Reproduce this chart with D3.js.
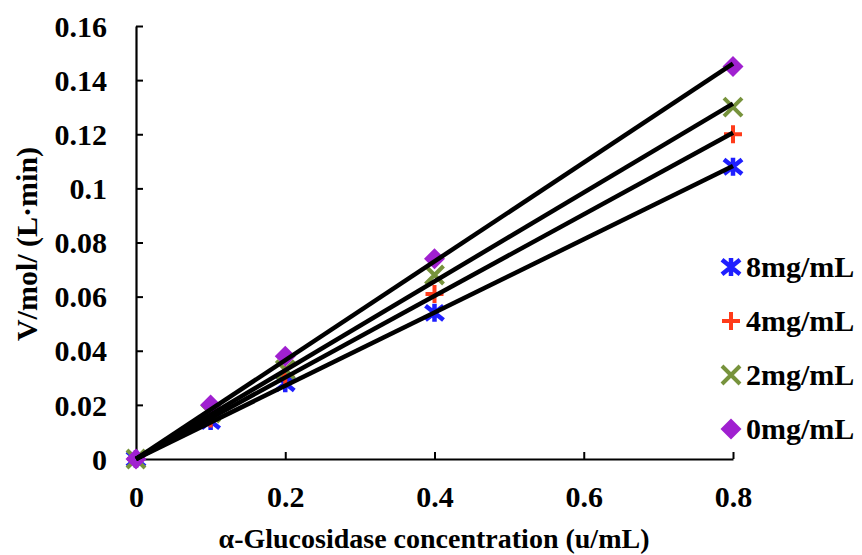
<!DOCTYPE html>
<html><head><meta charset="utf-8">
<script src="https://cdn.jsdelivr.net/npm/d3@7"></script>
<style>body{margin:0;background:#fff}svg{display:block}text{font-family:"Liberation Serif","Times New Roman",serif;font-weight:bold}</style>
</head><body><svg id="c" width="862" height="555"></svg>
<script>
const xValues = [0, 0.1, 0.2, 0.4, 0.8];
const s8 = [0, 0.014, 0.028, 0.054, 0.108];
const s4 = [0, 0.015, 0.031, 0.061, 0.120];
const s2 = [0, 0.017, 0.033, 0.068, 0.130];
const s0 = [0, 0.020, 0.038, 0.074, 0.145];
const seriesNames = ["8mg/mL", "4mg/mL", "2mg/mL", "0mg/mL"];
const seriesColors = ["#1f1fff", "#ff3b1a", "#77933c", "#a020d0"];
const seriesShapes = ["asterisk", "plus", "cross", "diamond"];
const xTicks = [0, 0.2, 0.4, 0.6, 0.8];
const yTicks = [0, 0.02, 0.04, 0.06, 0.08, 0.1, 0.12, 0.14, 0.16];
const allSeries = [s8, s4, s2, s0];

const svg = d3.select("#c");
const x = d3.scaleLinear().domain([0, 0.8]).range([136, 733]);
const y = d3.scaleLinear().domain([0, 0.16]).range([459, 26]);

// axes
const xa = svg.append("g").attr("transform", "translate(0,459)")
  .call(d3.axisBottom(x).tickValues(xTicks).tickSizeInner(-7).tickSizeOuter(0).tickPadding(0).tickFormat(d => d3.format("~g")(d)));
const ya = svg.append("g").attr("transform", "translate(136,0)")
  .call(d3.axisLeft(y).tickValues(yTicks).tickSizeInner(-7).tickSizeOuter(0).tickPadding(29).tickFormat(d => d3.format("~g")(d)));
[xa, ya].forEach(g => {
  g.attr("font-size", null).attr("font-family", null);
  g.selectAll("path.domain").attr("stroke", "#000").attr("stroke-width", 2.2);
  g.selectAll(".tick line").attr("stroke", "#000").attr("stroke-width", 2);
  g.selectAll(".tick text").attr("fill", "#000").style("font-size", "30px");
});
xa.selectAll(".tick text").attr("y", 48).attr("dy", 0);
ya.selectAll(".tick text").attr("dy", "0.34em");

function symbolPath(shape, cx, cy) {
  const r = 9;
  if (shape === "diamond") { const d = 10.5; return `M${cx},${cy-d}L${cx+d},${cy}L${cx},${cy+d}L${cx-d},${cy}Z`; }
  if (shape === "plus") return `M${cx-r},${cy}L${cx+r},${cy}M${cx},${cy-r}L${cx},${cy+r}`;
  if (shape === "cross") return `M${cx-r},${cy-r}L${cx+r},${cy+r}M${cx+r},${cy-r}L${cx-r},${cy+r}`;
  return `M${cx-r},${cy-r*0.8}L${cx+r},${cy+r*0.8}M${cx+r},${cy-r*0.8}L${cx-r},${cy+r*0.8}M${cx},${cy-r}L${cx},${cy+r}`;
}
function drawSymbol(g, shape, color, cx, cy) {
  const p = g.append("path").attr("d", symbolPath(shape, cx, cy));
  if (shape === "diamond") p.attr("fill", color).attr("stroke", "none");
  else p.attr("fill", "none").attr("stroke", color).attr("stroke-width", shape === "asterisk" ? 4.5 : 4);
}

// markers
allSeries.forEach((s, i) => {
  const g = svg.append("g");
  s.forEach((v, j) => drawSymbol(g, seriesShapes[i], seriesColors[i], x(xValues[j]), y(v)));
});

// trend lines (least squares through origin)
allSeries.forEach((s) => {
  const sxy = d3.sum(s, (v, j) => v * xValues[j]);
  const sxx = d3.sum(xValues, v => v * v);
  const k = sxy / sxx;
  svg.append("line").attr("x1", x(0)).attr("y1", y(0)).attr("x2", x(0.8)).attr("y2", y(k * 0.8))
    .attr("stroke", "#000").attr("stroke-width", 4.5);
});

// legend
const legY = [267, 321, 375, 429];
seriesNames.forEach((n, i) => {
  const g = svg.append("g");
  drawSymbol(g, seriesShapes[i], seriesColors[i], 731, legY[i]);
  g.append("text").attr("x", 746).attr("y", legY[i] + 10)
    .style("font-size", "30px").attr("fill", "#000").text(n);
});

// axis titles
svg.append("text").attr("x", 434).attr("y", 548).attr("text-anchor", "middle")
  .style("font-size", "28px").attr("fill", "#000").text("α-Glucosidase concentration (u/mL)");
svg.append("text").attr("transform", "translate(37,244) rotate(-90)").attr("text-anchor", "middle")
  .style("font-size", "30px").attr("fill", "#000").text("V/mol/ (L·min)");
</script></body></html>
